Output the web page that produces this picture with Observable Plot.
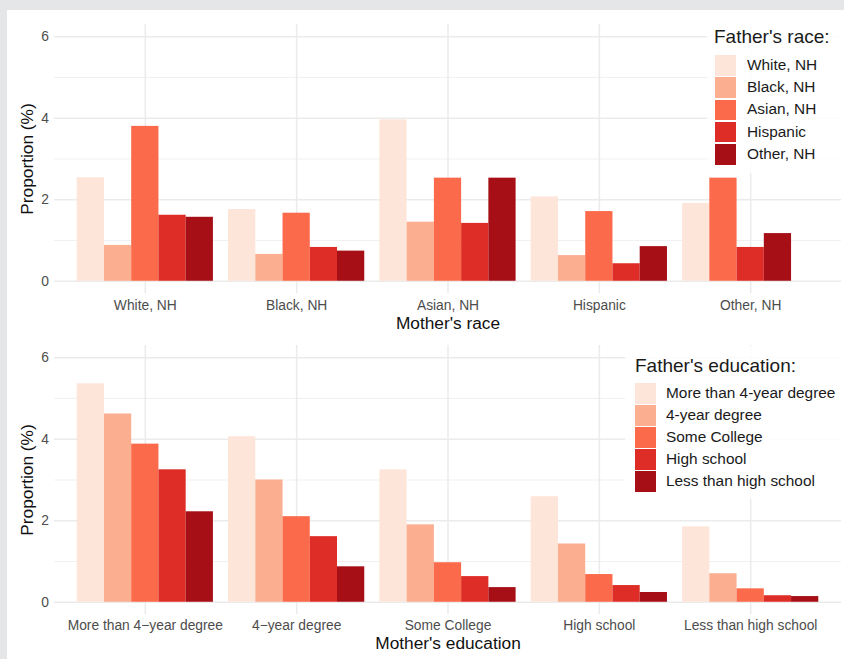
<!DOCTYPE html>
<html>
<head>
<meta charset="utf-8">
<script src="https://cdn.jsdelivr.net/npm/d3@7"></script>
<script src="https://cdn.jsdelivr.net/npm/@observablehq/plot@0.6"></script>
<style>
  html, body { margin: 0; padding: 0; background: #e5e6e8; }
  #page { position: relative; width: 844px; height: 659px; overflow: hidden;
          font-family: "Liberation Sans", Arial, Helvetica, sans-serif; }
  #card { position: absolute; left: 7px; top: 10px; right: 0; bottom: 0; background: #ffffff; }
  .chart { position: absolute; left: 0; overflow: visible; }
  .legend-box { position: absolute; background: rgba(255,255,255,0.85); }
  .legend-title { position: absolute; font-size: 19px; line-height: 19px; color: #1a1a1a; white-space: nowrap; }
  .legend-key { position: absolute; }
  .legend-label { position: absolute; font-size: 15.4px; line-height: 16px; color: #1a1a1a; white-space: nowrap; }
</style>
</head>
<body>
<div id="page"><div id="card"></div></div>
<script>
// ---- Mother's race × father's race (percent of births) ----
const motherRace = ["White, NH", "Black, NH", "Asian, NH", "Hispanic", "Other, NH"];
const fatherRace = ["White, NH", "Black, NH", "Asian, NH", "Hispanic", "Other, NH"];
// one array per father's race, in motherRace order (null = no bar)
const fatherWhite    = [2.54, 1.76, 3.96, 2.07, 1.91];
const fatherBlack    = [0.88, 0.66, 1.45, 0.63, null];
const fatherAsian    = [3.80, 1.67, 2.53, 1.71, 2.53];
const fatherHispanic = [1.62, 0.83, 1.42, 0.43, 0.83];
const fatherOther    = [1.57, 0.74, 2.53, 0.85, 1.17];

// ---- Mother's education × father's education ----
const motherEdu = ["More than 4-year degree", "4-year degree", "Some College", "High school", "Less than high school"];
const fatherEdu = ["More than 4-year degree", "4-year degree", "Some College", "High school", "Less than high school"];
const fatherMoreThan4yr = [5.36, 4.06, 3.25, 2.59, 1.85];
const father4yr         = [4.62, 3.00, 1.90, 1.43, 0.70];
const fatherSomeCollege = [3.88, 2.10, 0.97, 0.68, 0.33];
const fatherHighSchool  = [3.25, 1.61, 0.63, 0.41, 0.16];
const fatherLessThanHS  = [2.22, 0.87, 0.36, 0.24, 0.14];

const yMajorTicks = [0, 2, 4, 6];
const yMinorTicks = [1, 3, 5];
const reds = ["#fee5d9", "#fcae91", "#fb6a4a", "#de2d26", "#a50f15"];

// Dodged bars: each present bar in a group takes the next slot of width 0.9/5.
function dodgeRows(mothers, fathers, series) {
  const slotW = 0.9 / fathers.length;
  const out = [];
  mothers.forEach((m, i) => {
    let slot = 0;
    fathers.forEach((f, j) => {
      const v = series[j][i];
      if (v == null) return;
      const x1 = i - 0.45 + slot * slotW;
      out.push({mother: m, father: f, value: v, x1, x2: x1 + slotW});
      slot++;
    });
  });
  return out;
}

function barChart({mothers, fathers, series, height, marginTop, marginBottom, tickPadding, xTitle, titleDy}) {
  const data = dodgeRows(mothers, fathers, series);
  const idx = mothers.map((_, i) => i);
  return Plot.plot({
    width: 844,
    height,
    marginLeft: 54,
    marginRight: 3,
    marginTop,
    marginBottom,
    style: {background: "transparent", overflow: "visible", fontFamily: "Liberation Sans, Arial, sans-serif", fontSize: "13.8px", color: "#4d4d4d"},
    x: {domain: [-0.6, mothers.length - 0.4], ticks: idx, tickFormat: i => mothers[i].replace(/-/g, "\u2212"),
        tickSize: 0, tickPadding, label: null},
    y: {domain: [-0.3, 6.3], ticks: yMajorTicks, tickFormat: d => String(d), tickSize: 0, tickPadding: 5.5, label: null},
    color: {domain: fathers, range: reds},
    marks: [
      Plot.ruleY(yMinorTicks, {stroke: "#ededed", strokeWidth: 0.8}),
      Plot.ruleY(yMajorTicks, {stroke: "#ebebeb", strokeWidth: 1.5}),
      Plot.ruleX(idx, {stroke: "#ebebeb", strokeWidth: 1.5}),
      Plot.rect(data, {x1: "x1", x2: "x2", y1: 0, y2: "value", fill: "father"}),
      Plot.text([xTitle], {frameAnchor: "bottom", lineAnchor: "middle", textAnchor: "middle",
        dy: titleDy, fontSize: 17.3, fill: "#111"}),
      Plot.text(["Proportion (%)"], {frameAnchor: "left", lineAnchor: "middle", textAnchor: "middle",
        rotate: -90, dx: -27, fontSize: 17.3, fill: "#111"})
    ]
  });
}

function addLegend(page, chart, {box, title, titleLeft, titleTop, keyLeft, keyTop, keyStep, keyW, keyH, labelLeft}) {
  const color = chart.scale("color");
  const b = document.createElement("div");
  b.className = "legend-box";
  Object.assign(b.style, {left: box[0] + "px", top: box[1] + "px", width: box[2] + "px", height: box[3] + "px"});
  page.appendChild(b);
  const t = document.createElement("div");
  t.className = "legend-title";
  t.textContent = title;
  Object.assign(t.style, {left: titleLeft + "px", top: titleTop + "px"});
  page.appendChild(t);
  color.domain.forEach((d, i) => {
    const k = document.createElement("div");
    k.className = "legend-key";
    Object.assign(k.style, {left: keyLeft + "px", top: (keyTop + i * keyStep) + "px",
      width: keyW + "px", height: keyH + "px", background: color.apply(d)});
    page.appendChild(k);
    const l = document.createElement("div");
    l.className = "legend-label";
    l.textContent = d;
    Object.assign(l.style, {left: labelLeft + "px", top: (keyTop + i * keyStep + keyH / 2 - 8.5) + "px"});
    page.appendChild(l);
  });
}

const page = document.getElementById("page");

const raceChart = barChart({
  mothers: motherRace, fathers: fatherRace,
  series: [fatherWhite, fatherBlack, fatherAsian, fatherHispanic, fatherOther],
  height: 338, marginTop: 24, marginBottom: 45, tickPadding: 7,
  xTitle: "Mother's race", titleDy: 29.5
});
raceChart.classList.add("chart");
raceChart.style.top = "0px";
page.appendChild(raceChart);

const eduChart = barChart({
  mothers: motherEdu, fathers: fatherEdu,
  series: [fatherMoreThan4yr, father4yr, fatherSomeCollege, fatherHighSchool, fatherLessThanHS],
  height: 329, marginTop: 15, marginBottom: 45, tickPadding: 6,
  xTitle: "Mother's education", titleDy: 28.5
});
eduChart.classList.add("chart");
eduChart.style.top = "330px";
page.appendChild(eduChart);

addLegend(page, raceChart, {
  box: [707, 20, 137, 153], title: "Father's race:", titleLeft: 714, titleTop: 27,
  keyLeft: 715, keyTop: 55, keyStep: 22.3, keyW: 21, keyH: 20.5, labelLeft: 747
});
addLegend(page, eduChart, {
  box: [625, 346, 219, 153], title: "Father's education:", titleLeft: 635, titleTop: 356,
  keyLeft: 635, keyTop: 383, keyStep: 22, keyW: 20.5, keyH: 20.5, labelLeft: 666
});
</script>
</body>
</html>
